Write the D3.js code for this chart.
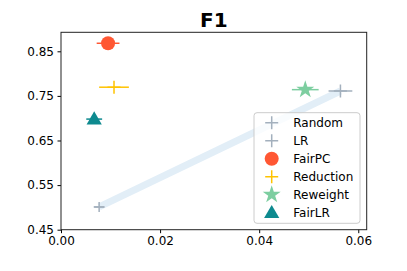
<!DOCTYPE html>
<html>
<head>
<meta charset="utf-8">
<script src="https://cdn.jsdelivr.net/npm/d3@7"></script>
<style>
  body { margin: 0; background: #fff; }
  svg { font-family: "DejaVu Sans", sans-serif; }
</style>
</head>
<body>
<svg id="chart" width="407" height="271"></svg>
<script>
// values
var methods = ["Random", "LR", "FairPC", "Reduction", "Reweight", "FairLR"];
var xVals = [0.0077, 0.0564, 0.0095, 0.0107, 0.0493, 0.0067];
var yVals = [0.501, 0.761, 0.868, 0.7695, 0.764, 0.698];
var xErr = [0.0011, 0.0024, 0.0023, 0.0030, 0.0027, 0.0016];
var colors = ["#a3b0bd", "#a3b0bd", "#ff5733", "#ffc300", "#7dcea0", "#0e8a8f"];
var shapes = ["plus", "plus", "circle", "plus", "star", "triangle"];
var xTicks = [0, 0.02, 0.04, 0.06];
var yTicks = [0.45, 0.55, 0.65, 0.75, 0.85];

var plotL = 61, plotR = 366.7, plotT = 32.3, plotB = 229.7;
var svg = d3.select("#chart");

var x = d3.scaleLinear().domain([0, 0.0617]).range([plotL, plotR]);
var y = d3.scaleLinear().domain([0.45, 0.8926]).range([plotB, plotT]);

// light band joining Random and LR
svg.append("line")
  .attr("x1", x(xVals[0])).attr("y1", y(yVals[0]))
  .attr("x2", x(xVals[1])).attr("y2", y(yVals[1]))
  .attr("stroke", "#e2eef7").attr("stroke-width", 7);

function drawMarker(g, shape, color, sz) {
  if (shape == "plus") {
    var h = sz / 2;
    g.append("path")
      .attr("d", "M" + (-h) + ",0H" + h + "M0," + (-h) + "V" + h)
      .attr("stroke", color).attr("stroke-width", 1.5).attr("fill", "none");
  } else if (shape == "circle") {
    g.append("circle").attr("r", 7).attr("fill", color);
  } else if (shape == "star") {
    g.append("path").attr("d", d3.symbol(d3.symbolStar, 100)()).attr("fill", color);
  } else {
    g.append("path").attr("d", d3.symbol(d3.symbolTriangle, 100)())
      .attr("transform", "translate(0,1)").attr("fill", color);
  }
}

for (var i = 0; i < methods.length; i++) {
  // horizontal error bar
  svg.append("line")
    .attr("x1", x(xVals[i] - xErr[i])).attr("x2", x(xVals[i] + xErr[i]))
    .attr("y1", y(yVals[i])).attr("y2", y(yVals[i]))
    .attr("stroke", colors[i]).attr("stroke-width", 1.5);
  var g = svg.append("g")
    .attr("transform", "translate(" + x(xVals[i]) + "," + y(yVals[i]) + ")");
  drawMarker(g, shapes[i], colors[i], i == 0 ? 10 : 13);
}

// axes
svg.append("g")
  .attr("transform", "translate(0," + plotB + ")")
  .style("font-size", "12px")
  .call(d3.axisBottom(x).tickValues(xTicks).tickFormat(d3.format(".2f")).tickSize(3.5).tickPadding(3.5))
  .call(function (a) { a.select(".domain").remove(); });
svg.append("g")
  .attr("transform", "translate(" + plotL + ",0)")
  .style("font-size", "12px")
  .call(d3.axisLeft(y).tickValues(yTicks).tickFormat(d3.format(".2f")).tickSize(3.5).tickPadding(3.5))
  .call(function (a) { a.select(".domain").remove(); });
svg.selectAll(".tick text").attr("fill", "#000").style("font-family", "DejaVu Sans");
svg.selectAll(".tick line").attr("stroke", "#000");

svg.append("rect")
  .attr("x", plotL).attr("y", plotT)
  .attr("width", plotR - plotL).attr("height", plotB - plotT)
  .attr("fill", "none").attr("stroke", "#222").attr("stroke-width", 1);

// title
svg.append("text")
  .attr("x", (plotL + plotR) / 2).attr("y", 26.5)
  .attr("text-anchor", "middle")
  .style("font-size", "20px").style("font-weight", "bold")
  .text("F1");

// legend
var lg = svg.append("g");
lg.append("rect")
  .attr("x", 254).attr("y", 112.7).attr("width", 106).attr("height", 110.6)
  .attr("rx", 3)
  .attr("fill", "#fff").attr("fill-opacity", 0.8)
  .attr("stroke", "#ccc").attr("stroke-width", 1);
for (var j = 0; j < methods.length; j++) {
  var ly = 122.7 + j * 18;
  var mg = lg.append("g").attr("transform", "translate(271.7," + ly + ")");
  drawMarker(mg, shapes[j], colors[j], 13);
  lg.append("text")
    .attr("x", 293.3).attr("y", ly)
    .attr("dy", "0.35em")
    .style("font-size", "12px")
    .text(methods[j]);
}
</script>
</body>
</html>
